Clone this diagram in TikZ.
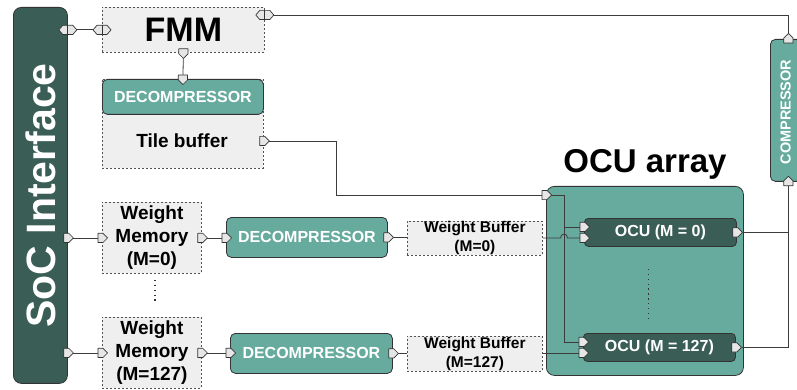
\documentclass[tikz,border=0pt]{standalone}
\usepackage{fontspec}
\setmainfont{Liberation Sans}
\usetikzlibrary{calc}
\definecolor{socgreen}{HTML}{3A5E55}
\definecolor{teal1}{HTML}{67AB9F}
\definecolor{lgray}{HTML}{EFEFEF}
\definecolor{portgray}{HTML}{E6E6E6}
\definecolor{edge}{HTML}{333333}
\definecolor{wirec}{HTML}{3C3C3C}
\tikzset{
  box/.style={inner sep=0pt, anchor=north west},
  dbox/.style={box, draw=edge!85, fill=lgray, dash pattern=on 2pt off 2pt, line width=0.8pt},
  tealbox/.style={box, draw=edge, fill=teal1, rounded corners=5pt, line width=0.8pt, text=white},
  darkbox/.style={box, draw=edge, fill=socgreen, rounded corners=4pt, line width=0.8pt, text=white},
  wire/.style={draw=wirec, line width=0.8pt},
  portshape/.style={draw=edge, fill=portgray, line width=0.7pt, line join=round},
  portR/.pic={\path[portshape] (-4,-4.6) -- (1,-4.6) -- (5.6,0) -- (1,4.6) -- (-4,4.6) -- cycle;},
  portB/.pic={\path[portshape] (-9,0) -- (-5,-4.6) -- (5,-4.6) -- (9,0) -- (5,4.6) -- (-5,4.6) -- cycle;
              \draw[edge, line width=0.7pt] (0,-4.6) -- (0,4.6);},
  dotline/.style={draw=edge, line width=1.3pt, dash pattern=on 1.3pt off 3.6pt},
}
\begin{document}
\begin{tikzpicture}[x=1pt,y=-1pt]
\useasboundingbox (0,0) rectangle (797,390);

% ---- nodes ----
\node[darkbox, rounded corners=8pt, minimum width=54pt, minimum height=376pt] (soc) at (13,7) {};
\node[text=white, rotate=90, inner sep=0pt, font=\bfseries\fontsize{41}{45}\selectfont] (soct) at (soc.center) {SoC Interface};

\node[dbox, minimum width=162pt, minimum height=45pt, font=\bfseries\fontsize{34}{38}\selectfont] (fmm) at (102,7) {FMM};
\node[dbox, minimum width=161pt, minimum height=89pt] (tb) at (102,79) {};
\node[tealbox, minimum width=161pt, minimum height=35pt, font=\bfseries\fontsize{16}{18}\selectfont] (dec0) at (102,79) {DECOMPRESSOR};
\node[inner sep=0pt, font=\bfseries\fontsize{19}{22}\selectfont] (tile) at (182,141) {Tile buffer};

\node[dbox, minimum width=99pt, minimum height=71pt, align=center, font=\bfseries\fontsize{19}{23}\selectfont] (wm0) at (102,202) {Weight\\Memory\\(M=0)};
\node[dbox, minimum width=99pt, minimum height=71pt, align=center, font=\bfseries\fontsize{19}{23}\selectfont] (wm1) at (102,317) {Weight\\Memory\\(M=127)};

\node[tealbox, minimum width=161pt, minimum height=40pt, font=\bfseries\fontsize{16}{18}\selectfont] (dec1) at (226,217) {DECOMPRESSOR};
\node[tealbox, minimum width=162pt, minimum height=40pt, font=\bfseries\fontsize{16}{18}\selectfont] (dec2) at (230,333) {DECOMPRESSOR};

\node[dbox, minimum width=135pt, minimum height=34pt, align=center, font=\bfseries\fontsize{15.5}{19}\selectfont] (wb0) at (407,221) {Weight Buffer\\(M=0)};
\node[dbox, minimum width=135pt, minimum height=35pt, align=center, font=\bfseries\fontsize{15.5}{19}\selectfont] (wb1) at (407,336) {Weight Buffer\\(M=127)};

\node[tealbox, rounded corners=8pt, minimum width=197pt, minimum height=189pt] (arr) at (546,186) {};
\node[anchor=base, inner sep=0pt, font=\bfseries\fontsize{33}{36}\selectfont] (arrt) at (645,173) {OCU array};

\node[darkbox, minimum width=152pt, minimum height=28pt, font=\bfseries\fontsize{16}{18}\selectfont] (ocu0) at (584,218) {OCU (M = 0)};
\node[darkbox, minimum width=152pt, minimum height=28pt, font=\bfseries\fontsize{16}{18}\selectfont] (ocu1) at (583,333) {OCU (M = 127)};

\node[tealbox, minimum width=36pt, minimum height=142pt] (comp) at (770,39) {};
\node[text=white, rotate=90, inner sep=0pt, font=\bfseries\fontsize{14.5}{16}\selectfont] (compt) at (785.5,112) {COMPRESSOR};

% ---- coordinates ----
\coordinate (fmmr) at ($(fmm.north east)+(0,8)$);
\coordinate (tp) at (tb.east |- tile);
\coordinate (ain) at ($(arr.north west)+(0,9)$);
\coordinate (bus) at ($(ain)+(18,0)$);
\coordinate (o0a) at ($(ocu0.west)+(0,-5.5)$);
\coordinate (o0b) at ($(ocu0.west)+(0,5.5)$);
\coordinate (o1a) at ($(ocu1.west)+(0,-5.5)$);
\coordinate (o1b) at ($(ocu1.west)+(0,5.5)$);

% ---- wires ----
\draw[wire] (soc.east |- fmm.west) -- (fmm.west);
\draw[wire] (fmmr) -| (comp.north);
\draw[wire] (fmm.south) -- (dec0.north);
\draw[wire] (tp) -- ++(73,0) |- (ain);
\draw[wire] (ain) -- (bus) |- (o1a);
\draw[wire] (bus |- o0a) -- (o0a);

\draw[wire] (soc.east |- wm0.west) -- (wm0.west);
\draw[wire] (wm0.east) -- (dec1.west |- wm0.east);
\draw[wire] (dec1.east) -- (dec1.east -| wb0.west);
\draw[wire] (wb0.east |- o0b) -- ($(bus |- o0b)+(-3.5,0)$) .. controls +(0,-5) and +(0,-5) .. ($(bus |- o0b)+(3.5,0)$) -- (o0b);

\draw[wire] (soc.east |- wm1.west) -- (wm1.west);
\draw[wire] (wm1.east) -- (dec2.west |- wm1.east);
\draw[wire] (dec2.east) -- (dec2.east -| wb1.west);
\draw[wire] (wb1.east |- o1b) -- (o1b);

\draw[wire] (ocu0.east) -| (comp.south);
\draw[wire] (ocu1.east) -| (comp.south);

% ---- dotted ellipses ----
\draw[dotline] ($(wm0.south)+(3,6)$) -- ($(wm1.north)+(3,-15)$);
\draw[dotline] ($(ocu0.south)+(-12,22)$) -- ($(ocu1.north)+(-11,-12)$);

% ---- ports ----
\pic at (soc.east |- fmm.west) {portB};
\pic at (fmm.west) {portB};
\pic at (fmmr) {portB};
\pic[rotate=-90] at (fmm.south) {portR};
\pic[rotate=-90] at (dec0.north) {portR};
\pic at (tp) {portR};
\pic at (soc.east |- wm0.west) {portR};
\pic at (wm0.west) {portR};
\pic at (wm0.east) {portR};
\pic at (dec1.west |- wm0.east) {portR};
\pic at (dec1.east) {portR};
\pic at (soc.east |- wm1.west) {portR};
\pic at (wm1.west) {portR};
\pic at (wm1.east) {portR};
\pic at (dec2.west |- wm1.east) {portR};
\pic at (dec2.east) {portR};
\pic at (ain) {portR};
\pic at (o0a) {portR};
\pic at (o0b) {portR};
\pic at (o1a) {portR};
\pic at (o1b) {portR};
\pic at (ocu0.east) {portR};
\pic at (ocu1.east) {portR};
\pic[rotate=90] at (comp.south) {portR};
\pic[rotate=90] at (comp.north) {portR};
\end{tikzpicture}
\end{document}
